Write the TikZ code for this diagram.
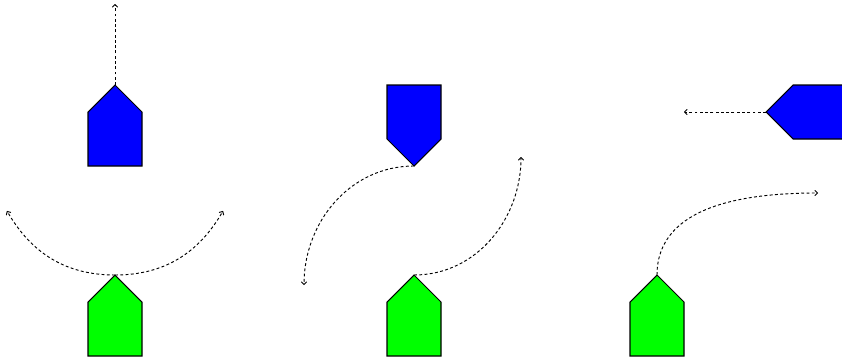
\documentclass[tikz,border=0pt]{standalone}
\usetikzlibrary{arrows.meta}
\definecolor{shipblue}{RGB}{0,0,255}
\definecolor{shipgreen}{RGB}{0,255,0}
\tikzset{
  ship/.style={draw=black,line width=0.9pt,line join=miter},
  track/.style={dashed,line width=0.8pt,dash pattern=on 2.5pt off 2pt,-{To[length=3pt,width=5pt]}}
}
\begin{document}
\begin{tikzpicture}[x=0.03cm,y=-0.03cm]
\useasboundingbox (0,0) rectangle (842,359);
\begin{scope}
\clip (0,0) rectangle (842,359);
% panel 1
\draw[ship,fill=shipblue] (115,85) -- (142,112) -- (142,166) -- (88,166) -- (88,112) -- cycle;
\coordinate (b1) at (115,85);
\coordinate (b1e) at (115,4);
\draw[ship,fill=shipgreen] (115,275) -- (142,302) -- (142,356) -- (88,356) -- (88,302) -- cycle;
\coordinate (g1) at (115,275);
\coordinate (g1l) at (7,211);
\coordinate (g1r) at (223,211);
% panel 2
\draw[ship,fill=shipblue] (414,166) -- (441,139) -- (441,85) -- (387,85) -- (387,139) -- cycle;
\coordinate (b2) at (414,166);
\coordinate (b2e) at (304,285);
\draw[ship,fill=shipgreen] (414,275) -- (441,302) -- (441,356) -- (387,356) -- (387,302) -- cycle;
\coordinate (g2) at (414,275);
\coordinate (g2e) at (521,157);
% panel 3
\draw[ship,fill=shipblue] (766,112) -- (793,85) -- (847,85) -- (847,139) -- (793,139) -- cycle;
\coordinate (b3) at (766,112);
\coordinate (b3e) at (684,112);
\draw[ship,fill=shipgreen] (657,275) -- (684,302) -- (684,356) -- (630,356) -- (630,302) -- cycle;
\coordinate (g3) at (657,275);
\coordinate (g3e) at (818,193);
\end{scope}
\draw[track] (b1) -- (b1e);
\draw[track] (g1) to[out=180,in=-60] (g1l);
\draw[track] (g1) to[out=0,in=240] (g1r);
\draw[track] (b2) to[out=180,in=90] (b2e);
\draw[track] (g2) to[out=0,in=-90] (g2e);
\draw[track] (b3) -- (b3e);
\draw[track] (g3) to[out=90,in=180] (g3e);
\end{tikzpicture}
\end{document}
